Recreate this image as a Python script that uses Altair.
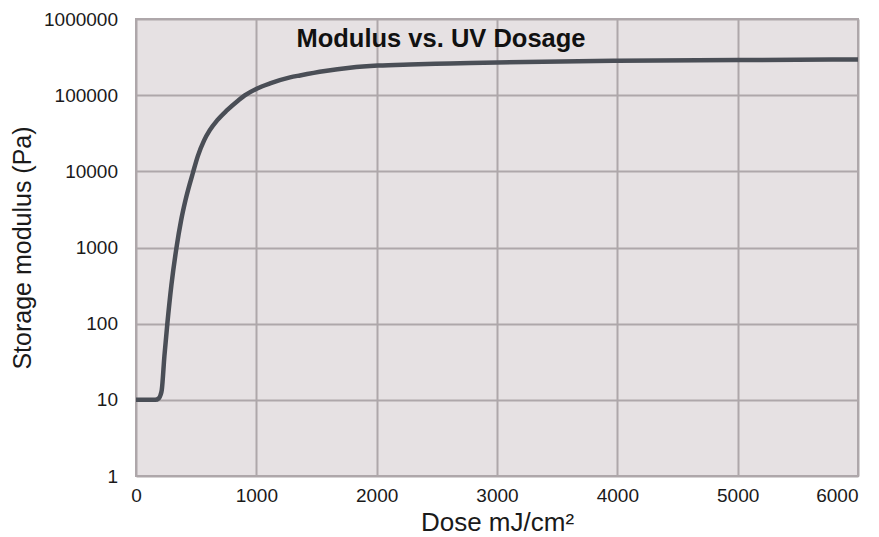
import altair as alt
import pandas as pd

dose = [0, 100, 160, 190, 205, 214, 236, 261, 294, 336, 375, 411, 475, 513,
        566, 612, 674, 755, 850, 904, 1003, 1114, 1280, 1363, 1571, 1778, 2011,
        2277, 2609, 3000, 4000, 5000, 6000]
modulus = [10, 10, 10, 10.5, 11.7, 13.4, 37.5, 102, 320, 986, 2280, 4170, 9800,
           15700, 25500, 34500, 46600, 63100, 85300, 99300, 121600, 142600,
           171000, 181600, 207500, 228600, 244300, 253000, 260000, 269000,
           282500, 289000, 294500]

x_ticks = [0, 1000, 2000, 3000, 4000, 5000, 6000]
y_ticks = [1, 10, 100, 1000, 10000, 100000, 1000000]

title_text = ["Modulus vs. UV Dosage"]

df = pd.DataFrame({"dose": dose, "modulus": modulus})

FONT = "Liberation Sans"
GRID = "#aea7aa"
TXT = "#1a1a1a"

line = alt.Chart(df).mark_line(
    color="#4a4e56", strokeWidth=4.5, interpolate="monotone"
).encode(
    x=alt.X("dose:Q", scale=alt.Scale(domain=[0, 6000], nice=False),
            axis=alt.Axis(values=x_ticks, format="d", title="Dose mJ/cm²", grid=True,
                          gridColor=GRID, gridWidth=2, domain=False, ticks=False,
                          labelFlush=False,
                          labelAlign={"condition": {"test": "datum.value == 6000",
                                                    "value": "right"},
                                      "value": "center"},
                          labelFontSize=19, labelPadding=10, labelColor=TXT,
                          titleFontSize=26, titleFontWeight="normal", titleColor=TXT,
                          titlePadding=4, labelFont=FONT, titleFont=FONT)),
    y=alt.Y("modulus:Q", scale=alt.Scale(type="log", domain=[1, 1000000], nice=False),
            axis=alt.Axis(values=y_ticks, format="d", title="Storage modulus (Pa)",
                          grid=True, gridColor=GRID, gridWidth=2, domain=False,
                          ticks=False, labelFontSize=19, labelPadding=18.5,
                          labelFlush=False,
                          labelColor=TXT, titleFontSize=25,
                          titleFontWeight="normal", titleColor=TXT,
                          titlePadding=8, labelFont=FONT, titleFont=FONT)),
)

title = alt.Chart(pd.DataFrame({"t": title_text})).mark_text(
    font=FONT, fontSize=25.5, fontWeight="bold", color="#111111", align="center",
    baseline="middle"
).encode(
    x=alt.value(305), y=alt.value(20), text="t:N"
)

chart = alt.layer(line, title).properties(
    width=722, height=457,
    autosize=alt.AutoSizeParams(type="none"),
    padding={"left": 128, "top": 11, "right": 5, "bottom": 64},
    background="white",
).configure_view(
    fill="#e6e1e3", stroke=GRID, strokeWidth=2
)

chart.save("out.html", embed_options={"renderer": "svg", "actions": False})
